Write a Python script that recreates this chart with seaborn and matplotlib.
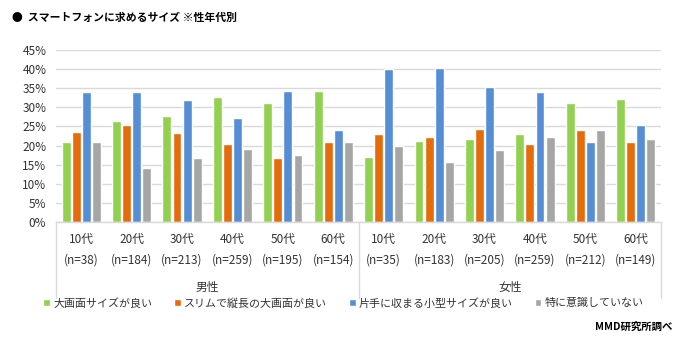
import matplotlib
matplotlib.use("Agg")
import matplotlib.pyplot as plt
import seaborn as sns
import pandas as pd

genders = ["男性", "女性"]
ages = ["10代", "20代", "30代", "40代", "50代", "60代"]
n_male = [38, 184, 213, 259, 195, 154]
n_female = [35, 183, 205, 259, 212, 149]
series = ["大画面サイズが良い", "スリムで縦長の大画面が良い", "片手に収まる小型サイズが良い", "特に意識していない"]

male_large = [21.0, 26.5, 27.8, 32.8, 31.2, 34.4]
male_slim = [23.6, 25.5, 23.4, 20.5, 16.8, 20.8]
male_small = [34.1, 33.9, 32.0, 27.3, 34.4, 24.2]
male_none = [21.0, 14.2, 16.8, 19.2, 17.4, 20.8]

female_large = [17.1, 21.3, 21.6, 23.1, 31.2, 32.3]
female_slim = [22.9, 22.3, 24.4, 20.5, 24.2, 20.8]
female_small = [40.1, 40.4, 35.2, 34.1, 20.8, 25.5]
female_none = [20.0, 15.8, 18.9, 22.3, 24.2, 21.6]

colors = ["#92D050", "#E46C0A", "#558ED5", "#A6A6A6"]

rows = []
cats = []
ticklabels = []
for g, ns, vals in [("男性", n_male, [male_large, male_slim, male_small, male_none]),
                    ("女性", n_female, [female_large, female_slim, female_small, female_none])]:
    for i, a in enumerate(ages):
        key = f"{g}{a}"
        cats.append(key)
        ticklabels.append(f"{a}\n(n={ns[i]})")
        for s, v in zip(series, vals):
            rows.append({"segment": key, "answer": s, "pct": v[i]})
df = pd.DataFrame(rows)

sns.set_theme(style="white")
plt.rcParams["font.family"] = ["Noto Sans CJK JP", "DejaVu Sans"]

txt = "#333333"
fig = plt.figure(figsize=(6.77, 3.47), dpi=100)
ax = fig.add_axes([56/677, 1-222/347, (661-56)/677, (222-50)/347])

sns.barplot(data=df, x="segment", y="pct", hue="answer", order=cats, hue_order=series,
            palette=colors, width=0.8, gap=0.12, ax=ax, saturation=1)

ax.set_ylim(0, 45)
ax.set_yticks(range(0, 46, 5))
ax.set_yticklabels([f"{v}%" for v in range(0, 46, 5)], fontsize=8.5, color=txt)
ax.set_xticks(range(len(cats)))
ax.set_xticklabels(ticklabels, fontsize=8.5, color=txt, linespacing=1.75)
ax.tick_params(axis="both", length=0)
ax.tick_params(axis="x", pad=8)
ax.tick_params(axis="y", pad=7)
ax.set_xlabel("")
ax.set_ylabel("")
ax.set_xlim(-0.5, len(cats) - 0.5)
ax.yaxis.grid(True, color="#D9D9D9", linewidth=1)
ax.set_axisbelow(True)
for sp in ["left", "right", "top"]:
    ax.spines[sp].set_visible(False)
ax.spines["bottom"].set_color("#D9D9D9")
ax.spines["bottom"].set_linewidth(1)

# separators beneath the axis
ybot = -(298 - 222) / (222 - 50)
for xa in [0, 0.5, 1]:
    ax.plot([xa, xa], [0, ybot], transform=ax.transAxes, color="#D9D9D9", lw=1, clip_on=False)

# gender labels
for i, g in enumerate(genders):
    ax.text(0.25 + 0.5 * i, -(287 - 222) / (222 - 50), g, transform=ax.transAxes,
            ha="center", va="center", fontsize=8.5, color=txt)

handles, labels = ax.get_legend_handles_labels()
ax.get_legend().remove()
fig.legend(handles, labels, loc="center left", bbox_to_anchor=(40/677, 1 - 303/347), ncol=4,
           frameon=False, fontsize=7.9, handlelength=0.6, handleheight=0.6,
           handletextpad=0.3, columnspacing=2.0, labelcolor=txt, borderaxespad=0,
           borderpad=0.3)

fig.text(12/677, 1 - 18/347, "●  スマートフォンに求めるサイズ ※性年代別", fontsize=7.8,
         fontweight="bold", ha="left", va="center", color="#000000")
fig.text(672/677, 1 - 327/347, "MMD研究所調べ", fontsize=7.5, fontweight="bold",
         ha="right", va="center", color="#000000")

fig.savefig("out.png", dpi=100)
